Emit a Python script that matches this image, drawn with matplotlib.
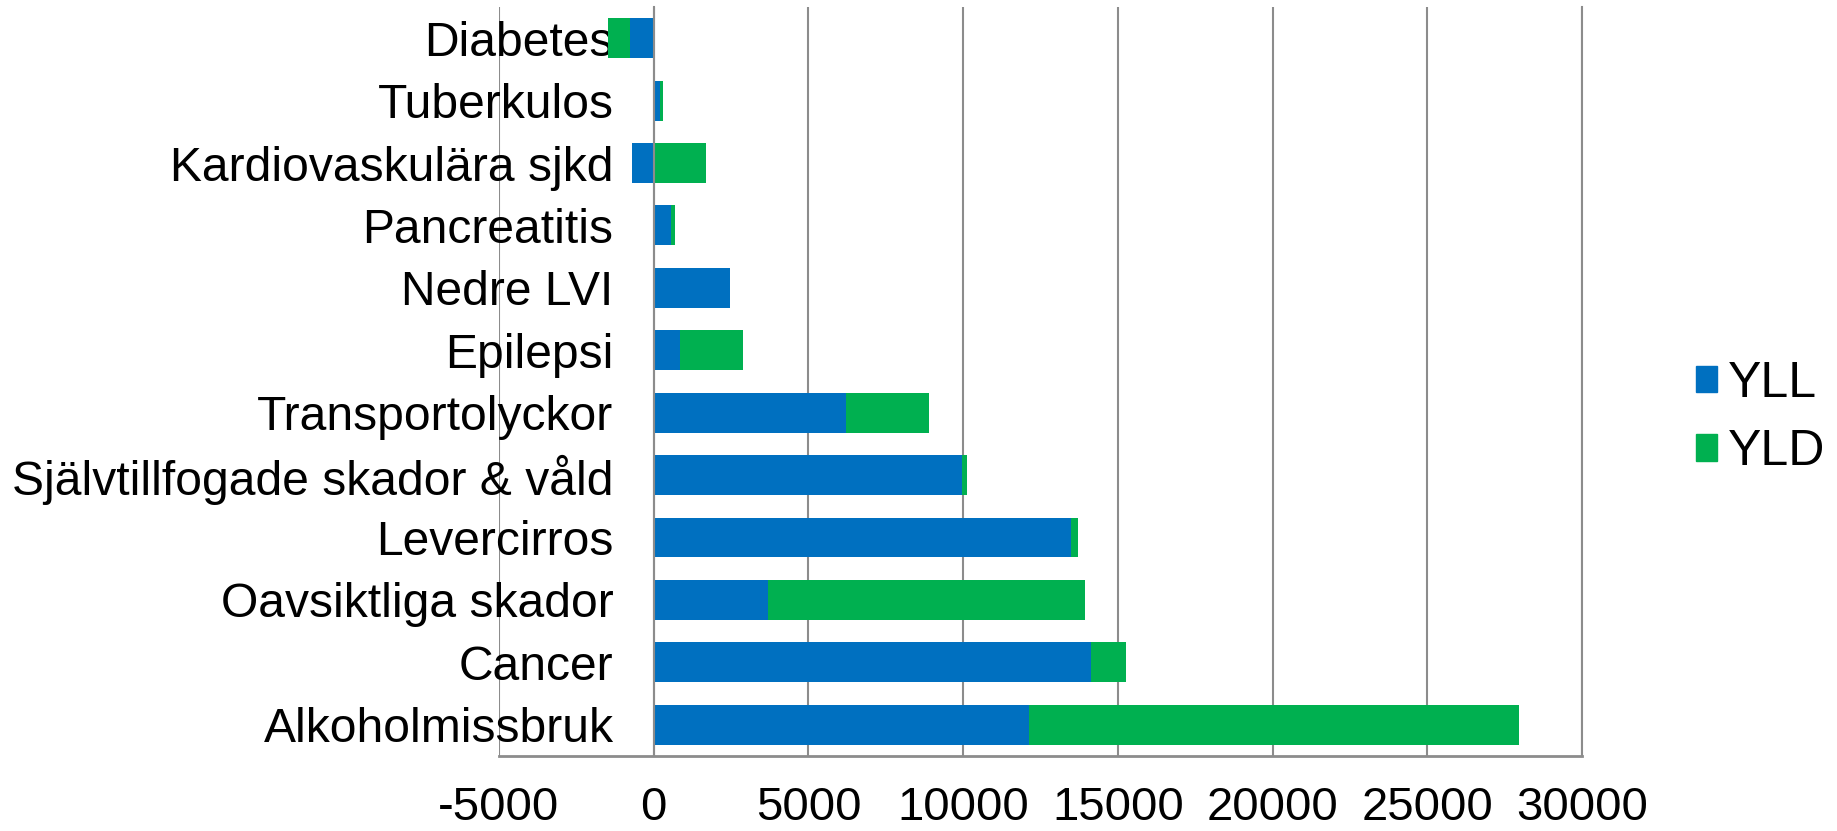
import matplotlib
matplotlib.use('Agg')
from matplotlib import pyplot as plt
from matplotlib.patches import Patch

plt.rcParams['font.family'] = ['Liberation Sans', 'DejaVu Sans']

# kategorier uppifrån och ned
categories = [
    'Diabetes', 'Tuberkulos', 'Kardiovaskulära sjkd', 'Pancreatitis',
    'Nedre LVI', 'Epilepsi', 'Transportolyckor',
    'Självtillfogade skador & våld', 'Levercirros', 'Oavsiktliga skador',
    'Cancer', 'Alkoholmissbruk'
]
yll = [-760, 200, -700, 550, 2450, 840, 6230, 9950, 13500, 3700, 14120, 12140]
yld = [-720, 90, 1700, 140, 0, 2050, 2680, 160, 210, 10230, 1150, 15820]

x_ticks = [-5000, 0, 5000, 10000, 15000, 20000, 25000, 30000]

col_yll = '#0070C0'
col_yld = '#00B050'
grid_col = '#8c8c8c'

fig = plt.figure(figsize=(18.37, 8.31), dpi=100)
ax = fig.add_axes([499 / 1837, 0.0904, (1582 - 499) / 1837, 0.9915 - 0.0904])

# y-axeln ligger vid 0 (etiketterna hamnar bredvid nollan)
ax.spines['left'].set_position(('data', 0))
ax.spines['left'].set_color(grid_col)
ax.spines['left'].set_linewidth(1.5)
ax.spines['left'].set_zorder(4)
ax.spines['bottom'].set_color(grid_col)
ax.spines['bottom'].set_linewidth(2)
ax.spines['top'].set_visible(False)
ax.spines['right'].set_color(grid_col)
ax.spines['right'].set_linewidth(1.5)

ypos = list(range(len(categories)))

# negativa värden staplas för sig (som i Excel)
yld_left = [a if (a < 0) == (b < 0) else 0 for a, b in zip(yll, yld)]

ax.barh(ypos, yll, height=0.64, color=col_yll, zorder=3)
ax.barh(ypos, yld, left=yld_left, height=0.64, color=col_yld, zorder=3)

ax.set_ylim(len(categories) - 0.5, -0.5)
ax.set_xlim(-5000, 30000)
ax.set_xticks(x_ticks)
ax.set_xticklabels([str(t) for t in x_ticks], fontsize=34)
ax.set_yticks(ypos)
ax.set_yticklabels(categories, fontsize=34.6)

ax.grid(axis='x', color=grid_col, linewidth=1.5, zorder=0)
ax.tick_params(axis='x', length=0, pad=22)
ax.tick_params(axis='y', length=0, pad=29)

handles = [Patch(color=col_yll, label='YLL'), Patch(color=col_yld, label='YLD')]
fig.legend(handles=handles, loc='center left',
           bbox_to_anchor=(1696 / 1837, (831 - 418) / 831),
           frameon=False, fontsize=36, handlelength=0.42, handleheight=0.45,
           handletextpad=0.22, labelspacing=0.45, borderpad=0, borderaxespad=0)

plt.savefig('out.png', dpi=100)
plt.close()
